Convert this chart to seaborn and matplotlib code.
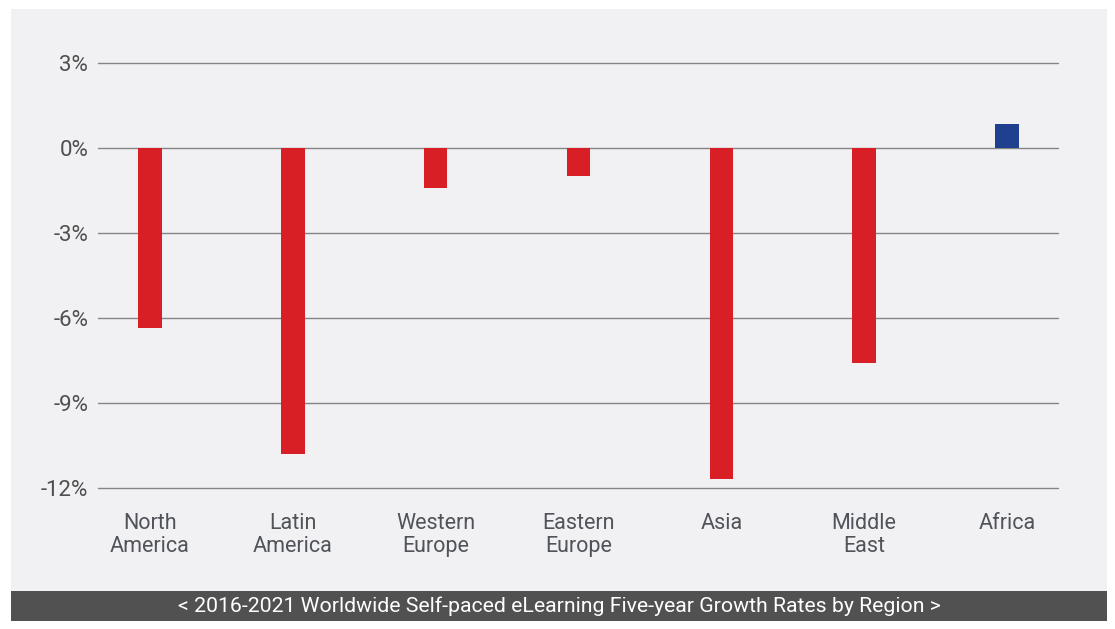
import matplotlib
matplotlib.use("Agg")
import matplotlib.pyplot as plt
import seaborn as sns
import pandas as pd
from matplotlib.patches import Rectangle

regions = ["North\nAmerica", "Latin\nAmerica", "Western\nEurope", "Eastern\nEurope", "Asia", "Middle\nEast", "Africa"]
growth = [-6.35, -10.8, -1.4, -1.0, -11.7, -7.6, 0.85]
yticks = [3, 0, -3, -6, -9, -12]
title = "< 2016-2021 Worldwide Self-paced eLearning Five-year Growth Rates by Region >"

df = pd.DataFrame({"region": regions, "growth": growth})
df["sign"] = ["neg" if g < 0 else "pos" for g in growth]

sns.set_theme(style="white")
plt.rcParams["font.family"] = ["Roboto", "DejaVu Sans"]

W, H = 1115, 629
fig = plt.figure(figsize=(W / 100, H / 100), dpi=100)
fig.patch.set_facecolor("white")

# panel background and banner
fig.add_artist(Rectangle((11 / W, 1 - 591 / H), (1107 - 11) / W, (591 - 9) / H,
                         transform=fig.transFigure, facecolor="#f1f1f3", edgecolor="none", zorder=0))
fig.add_artist(Rectangle((11 / W, 1 - 621 / H), (1107 - 11) / W, (621 - 591) / H,
                         transform=fig.transFigure, facecolor="#515151", edgecolor="none", zorder=0))
fig.text(559 / W, 1 - 606 / H, title, ha="center", va="center", color="white", fontsize=15.3)

ax = fig.add_axes([98 / W, 1 - 488 / H, (1058 - 98) / W, (488 - 63) / H])
ax.set_facecolor("none")

sns.barplot(data=df, x="region", y="growth", hue="sign",
            palette={"neg": "#d91f26", "pos": "#1f3f8f"}, dodge=False,
            width=0.165, legend=False, ax=ax, zorder=3, saturation=1, linewidth=0)

ax.set_xlim(-0.364, 6.357)
ax.set_ylim(-12, 3)
ax.set_yticks(yticks)
ax.set_yticklabels([f"{t}%" for t in yticks])
ax.yaxis.grid(True, color="#858585", linewidth=1)
for gl in ax.get_ygridlines():
    gl.set_clip_on(False)
ax.set_axisbelow(True)
for s in ax.spines.values():
    s.set_visible(False)
ax.set_xlabel("")
ax.set_ylabel("")
ax.tick_params(axis="y", length=0, pad=7, labelsize=16, labelcolor="#4f4f4f")
ax.tick_params(axis="x", length=0, pad=18, labelsize=15.5, labelcolor="#505359")
for lbl in ax.get_xticklabels():
    lbl.set_linespacing(1.15)

fig.savefig("out.png", dpi=100)
